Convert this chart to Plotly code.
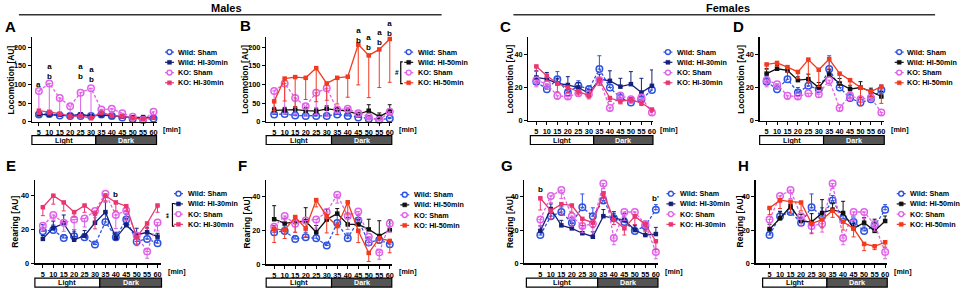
import plotly.graph_objects as go

W, H = 970, 296

# ---------------- data ----------------
time = [5, 10, 15, 20, 25, 30, 35, 40, 45, 50, 55, 60]
tick_time = [5, 10, 15, 20, 25, 30, 35, 40, 45, 50, 55, 60]

# Males - locomotion
m_loc_wild_sham = [20, 21, 17, 16, 16, 16, 20, 16, 12, 8, 6, 9]
m_loc_wild_sham_err = [3, 4, 3, 3, 3, 3, 3, 3, 3, 2, 2, 3]
m_loc_ko_sham = [83, 103, 64, 42, 78, 90, 33, 35, 23, 14, 5, 27]
m_loc_ko_sham_err = [60, 82, 45, 26, 58, 76, 10, 10, 8, 5, 3, 8]
m_loc_wild_hi30 = [20, 19, 19, 17, 20, 16, 18, 15, 14, 12, 13, 12]
m_loc_wild_hi30_err = [4, 4, 4, 4, 4, 4, 4, 3, 3, 3, 3, 3]
m_loc_ko_hi30 = [30, 27, 22, 15, 16, 10, 25, 17, 15, 10, 8, 12]
m_loc_ko_hi30_err = [10, 8, 6, 5, 5, 4, 6, 5, 4, 3, 3, 3]
m_loc_wild_hi50 = [31, 31, 33, 30, 29, 35, 33, 29, 20, 30, 14, 29]
m_loc_wild_hi50_err = [8, 8, 8, 8, 8, 8, 8, 8, 6, 16, 10, 17]
m_loc_ko_hi50 = [55, 116, 120, 118, 144, 103, 118, 121, 207, 178, 194, 222]
m_loc_ko_hi50_err = [25, 60, 80, 58, 90, 45, 70, 55, 108, 113, 102, 116]

# Females - locomotion
f_loc_wild_sham = [23.4, 19, 25, 17, 21, 19, 31, 20, 13.7, 11, 13, 18.5]
f_loc_wild_sham_err = [3, 3, 4.5, 3, 3, 2, 8, 3, 3, 3, 3, 3]
f_loc_ko_sham = [24.4, 22, 15, 14.6, 16.6, 16, 24.4, 7.8, 15.2, 13, 14, 5]
f_loc_ko_sham_err = [4, 3, 2, 1.5, 2, 2, 3, 2, 3, 2, 2, 1.5]
f_loc_wild_hi30 = [26, 25, 22.5, 21.5, 20, 16.5, 25, 24, 20.5, 22, 17, 21]
f_loc_wild_hi30_err = [4, 4, 3, 5, 3, 2, 3, 6, 5, 7.5, 8.5, 9.5]
f_loc_ko_hi30 = [32.6, 27, 22.4, 20, 17.6, 15.2, 24.4, 13.7, 11.7, 12.7, 10.7, 6.8]
f_loc_ko_hi30_err = [3, 3, 5, 3, 2, 2, 3, 2, 1.5, 2, 1.5, 1.5]
f_loc_wild_hi50 = [28.3, 31.2, 30.2, 24.4, 25, 20, 27.7, 22.4, 19, 20, 17.6, 14.6]
f_loc_wild_hi50_err = [3, 2, 2, 2, 3, 3, 3, 3, 2, 3.5, 2, 3]
f_loc_ko_hi50 = [33.8, 34.7, 32.2, 29.3, 36.7, 30.6, 37, 28.3, 24.4, 20, 17.6, 20.5]
f_loc_ko_hi50_err = [3, 2, 3, 4, 14, 10, 6, 6, 3, 11, 3, 10]

# Males - rearing
m_rear_wild_sham = [19, 19.7, 15, 16, 15.5, 11.2, 24.5, 15.5, 26, 13, 14.5, 12]
m_rear_wild_sham_err = [4, 3, 2, 3, 2, 1, 5, 3, 3, 3, 3, 2]
m_rear_ko_sham = [22.2, 28.6, 24, 26, 26.5, 31, 41.2, 28.6, 31.3, 16.4, 7.1, 24.2]
m_rear_ko_sham_err = [3, 3, 5, 6, 5, 4, 5, 8, 6, 5, 4, 5]
m_rear_wild_hi30 = [14.5, 21, 23.6, 14, 16.4, 24, 30.3, 15, 22.6, 16.8, 18.4, 15.8]
m_rear_wild_hi30_err = [2, 4, 5, 6, 3, 5, 6, 3, 4, 4, 3, 2]
m_rear_ko_hi30 = [33.2, 40, 36, 30.3, 34.2, 29.4, 40, 36, 33.8, 15.5, 23.6, 34.2]
m_rear_ko_hi30_err = [5, 5, 5, 3, 4, 9, 3, 5, 3, 5, 3, 4]
m_rear_wild_hi50 = [26.7, 24.2, 25.1, 25.5, 19, 26.5, 30, 23.6, 23.6, 20.7, 16.8, 20.3]
m_rear_wild_hi50_err = [8, 3, 3, 8, 4, 6, 3, 4, 3, 6, 9, 6]
m_rear_ko_hi50 = [21, 20.3, 28, 21.3, 38, 28.6, 22.6, 36.7, 19.9, 6.8, 15.5, 13.9]
m_rear_ko_hi50_err = [8, 5, 9, 5, 4, 10, 5, 7, 7, 5, 3, 7]

# Females - rearing
f_rear_wild_sham = [17, 28.3, 30.8, 24.4, 33.6, 28.3, 37.7, 27, 24.8, 19.5, 22.4, 32.2]
f_rear_wild_sham_err = [3, 3, 3, 3, 8, 5, 3, 3, 3, 3, 3, 3]
f_rear_ko_sham = [26.3, 40.4, 43.9, 28.3, 22.4, 23.8, 47.8, 15.2, 30.8, 30.8, 23.4, 6.8]
f_rear_ko_sham_err = [4, 4, 5, 6, 4, 5, 3, 4, 5, 4, 4, 4]
f_rear_wild_hi30 = [19.5, 32.6, 22.8, 21, 18.1, 16, 28.3, 27, 26, 20, 17, 17.6]
f_rear_wild_hi30_err = [3, 3, 3, 3, 3, 3, 4, 4, 4, 3, 3, 4]
f_rear_ko_hi30 = [39, 31.6, 35.5, 34.7, 26.7, 24.4, 42, 26.3, 21, 28.3, 23.4, 13.3]
f_rear_ko_hi30_err = [7, 5, 6, 4, 4, 3, 3, 3, 4, 5, 4, 5]
f_rear_wild_hi50 = [20.5, 27, 34.2, 25.4, 24.8, 30.2, 32.2, 30.2, 21, 24.4, 19.5, 25.4]
f_rear_wild_hi50_err = [3, 4, 3, 4, 5, 8, 4, 7, 3, 3, 7, 3]
f_rear_ko_hi50 = [33.2, 37.9, 37, 36.5, 23.8, 26.3, 31.6, 25, 20.9, 11.7, 10.3, 12.7]
f_rear_ko_hi50_err = [4, 5, 7, 5, 6, 5, 4, 5, 5, 4, 2, 3]

group_names = ["Wild: Sham", "Wild: HI-30min", "KO: Sham", "KO: HI-30min"]
group_names_50 = ["Wild: Sham", "Wild: HI-50min", "KO: Sham", "KO: HI-50min"]

# significance letters: (panel index, time, value at label centre, label)
sig_letters = [
    (0, 5, 100, "a"),
    (0, 10, 136, "a<br>b"),
    (0, 25, 136, "a<br>b"),
    (0, 30, 128, "a<br>b"),
    (1, 45, 231, "a<br>b"),
    (1, 50, 212, "a<br>b"),
    (1, 55, 227, "a<br>b"),
    (1, 60, 249, "a<br>b"),
    (4, 40, 40.5, "b"),
    (6, 5, 44, "b"),
    (6, 60, 39, "b'"),
]

# ---------------- styles ----------------
C_WSHAM = "#2f52e0"
C_WHI30 = "#15207c"
C_KSHAM = "#e062e8"
C_KHI30 = "#e93570"
C_WHI50 = "#111111"
C_KHI50 = "#f23a1f"
FONT = "Liberation Sans"

def px(x):
    return x / W

def py(y):
    return 1 - y / H

panels = [
    dict(L="A", s=[(m_loc_wild_sham, m_loc_wild_sham_err), (m_loc_wild_hi30, m_loc_wild_hi30_err),
                   (m_loc_ko_sham, m_loc_ko_sham_err), (m_loc_ko_hi30, m_loc_ko_hi30_err)],
         n=group_names, c=[C_WSHAM, C_WHI30, C_KSHAM, C_KHI30],
         xd=(32, 157), xr=(1.65, 61.43), yd=(38, 124), ymax=226.3, yt=[0, 50, 100, 150, 200],
         yl="Locomotion [AU]", lx=(170, 177), ly=53, letter=(11, 27), ytx=11),
    dict(L="B", s=[(m_loc_wild_sham, m_loc_wild_sham_err), (m_loc_wild_hi50, m_loc_wild_hi50_err),
                   (m_loc_ko_sham, m_loc_ko_sham_err), (m_loc_ko_hi50, m_loc_ko_hi50_err)],
         n=group_names_50, c=[C_WSHAM, C_WHI50, C_KSHAM, C_KHI50],
         xd=(267, 393), xr=(1.2, 60.95), yd=(38, 124), ymax=226.3, yt=[0, 50, 100, 150, 200],
         yl="Locomotion [AU]", lx=(410, 417), ly=53, letter=(246, 26), ytx=245),
    dict(L="C", s=[(f_loc_wild_sham, f_loc_wild_sham_err), (f_loc_wild_hi30, f_loc_wild_hi30_err),
                   (f_loc_ko_sham, f_loc_ko_sham_err), (f_loc_ko_hi30, f_loc_ko_hi30_err)],
         n=group_names, c=[C_WSHAM, C_WHI30, C_KSHAM, C_KHI30],
         xd=(530, 655), xr=(1.2, 60.5), yd=(38, 123), ymax=50, yt=[0, 20, 40],
         yl="Locomotion [AU]", lx=(670, 677), ly=53, letter=(507, 27), ytx=512),
    dict(L="D", s=[(f_loc_wild_sham, f_loc_wild_sham_err), (f_loc_wild_hi50, f_loc_wild_hi50_err),
                   (f_loc_ko_sham, f_loc_ko_sham_err), (f_loc_ko_hi50, f_loc_ko_hi50_err)],
         n=group_names_50, c=[C_WSHAM, C_WHI50, C_KSHAM, C_KHI50],
         xd=(762, 887), xr=(1.65, 61.4), yd=(38, 123), ymax=50, yt=[0, 20, 40],
         yl="Locomotion [AU]", lx=(902, 908), ly=53, letter=(741, 27), ytx=743),
    dict(L="E", s=[(m_rear_wild_sham, m_rear_wild_sham_err), (m_rear_wild_hi30, m_rear_wild_hi30_err),
                   (m_rear_ko_sham, m_rear_ko_sham_err), (m_rear_ko_hi30, m_rear_ko_hi30_err)],
         n=group_names, c=[C_WSHAM, C_WHI30, C_KSHAM, C_KHI30],
         xd=(35, 162), xr=(1.17, 61.9), yd=(183, 268), ymax=49.3, yt=[0, 20, 40],
         yl="Rearing [AU]", lx=(179, 187), ly=197, letter=(11, 168), ytx=15),
    dict(L="F", s=[(m_rear_wild_sham, m_rear_wild_sham_err), (m_rear_wild_hi50, m_rear_wild_hi50_err),
                   (m_rear_ko_sham, m_rear_ko_sham_err), (m_rear_ko_hi50, m_rear_ko_hi50_err)],
         n=group_names_50, c=[C_WSHAM, C_WHI50, C_KSHAM, C_KHI50],
         xd=(267, 393), xr=(1.2, 60.95), yd=(183, 269), ymax=49.9, yt=[0, 20, 40],
         yl="Rearing [AU]", lx=(406, 413), ly=198, letter=(243, 168), ytx=248),
    dict(L="G", s=[(f_rear_wild_sham, f_rear_wild_sham_err), (f_rear_wild_hi30, f_rear_wild_hi30_err),
                   (f_rear_ko_sham, f_rear_ko_sham_err), (f_rear_ko_hi30, f_rear_ko_hi30_err)],
         n=group_names, c=[C_WSHAM, C_WHI30, C_KSHAM, C_KHI30],
         xd=(526, 660), xr=(-2.6, 61), yd=(183, 268), ymax=50, yt=[0, 20, 40],
         yl="Rearing [AU]", lx=(673, 680), ly=197, letter=(509, 168), ytx=511),
    dict(L="H", s=[(f_rear_wild_sham, f_rear_wild_sham_err), (f_rear_wild_hi50, f_rear_wild_hi50_err),
                   (f_rear_ko_sham, f_rear_ko_sham_err), (f_rear_ko_hi50, f_rear_ko_hi50_err)],
         n=group_names_50, c=[C_WSHAM, C_WHI50, C_KSHAM, C_KHI50],
         xd=(758, 890), xr=(-1.6, 61), yd=(183, 268), ymax=50, yt=[0, 20, 40],
         yl="Rearing [AU]", lx=(904, 911), ly=197, letter=(746, 168), ytx=742),
]

fig = go.Figure()
shapes = []
annots = []
layout_axes = {}

def txt(x, y, t, size, color="black", xanchor="center", angle=0):
    annots.append(dict(x=px(x), y=py(y), xref="paper", yref="paper", text=f"<b>{t}</b>",
                       showarrow=False, xanchor=xanchor, yanchor="middle", textangle=angle,
                       font=dict(family=FONT, size=size, color=color)))

for i, p in enumerate(panels):
    k = i + 1
    xa = "x" if k == 1 else f"x{k}"
    ya = "y" if k == 1 else f"y{k}"
    layout_axes["xaxis" if k == 1 else f"xaxis{k}"] = dict(
        domain=[px(p["xd"][0]), px(p["xd"][1])], range=list(p["xr"]), anchor=ya,
        showline=True, linecolor="black", linewidth=1.3, ticks="outside", ticklen=3,
        tickwidth=1, tickcolor="black", tickvals=tick_time,
        ticktext=[f"<b>{t}</b>" for t in tick_time],
        tickfont=dict(family=FONT, size=7.3, color="black"),
        showgrid=False, zeroline=False, fixedrange=True)
    layout_axes["yaxis" if k == 1 else f"yaxis{k}"] = dict(
        domain=[py(p["yd"][1]), py(p["yd"][0])], range=[0, p["ymax"]], anchor=xa,
        showline=True, linecolor="black", linewidth=1.3, ticks="outside", ticklen=3,
        tickwidth=1, tickcolor="black", tickvals=p["yt"],
        ticktext=[f"<b>{t}</b>" for t in p["yt"]],
        tickfont=dict(family=FONT, size=7.3, color="black"),
        showgrid=False, zeroline=False, fixedrange=True)

    for j, ((vals, err), name, col) in enumerate(zip(p["s"], p["n"], p["c"])):
        sham = j in (0, 2)
        up = j in (0, 1)
        zeros = [0] * len(err)
        fig.add_trace(go.Scatter(
            x=time, y=vals, xaxis=xa, yaxis=ya, name=name, showlegend=False,
            mode="lines+markers", cliponaxis=False,
            line=dict(color=col, width=1.3, dash="3px,2px" if sham else "solid"),
            marker=dict(symbol="circle-open" if sham else "square",
                        size=6.5 if sham else 4.5, color=col,
                        line=dict(color=col, width=1.5 if sham else 0)),
            error_y=dict(type="data", symmetric=False,
                         array=err if up else zeros,
                         arrayminus=zeros if up else err,
                         color=col, thickness=1, width=2)))

    # compact manual legend
    mx, tx = p["lx"]
    for j, (name, col) in enumerate(zip(p["n"], p["c"])):
        yy = p["ly"] + j * 10.4
        sham = j in (0, 2)
        shapes.append(dict(type="line", xref="paper", yref="paper",
                           x0=px(mx - 4.5), x1=px(mx + 4.5), y0=py(yy), y1=py(yy),
                           line=dict(color=col, width=1.2, dash="2px,1.5px" if sham else "solid")))
        if sham:
            shapes.append(dict(type="circle", xref="paper", yref="paper",
                               x0=px(mx - 2.5), x1=px(mx + 2.5), y0=py(yy + 2.5), y1=py(yy - 2.5),
                               line=dict(color=col, width=1.4), fillcolor="white"))
        else:
            shapes.append(dict(type="rect", xref="paper", yref="paper",
                               x0=px(mx - 2), x1=px(mx + 2), y0=py(yy + 2), y1=py(yy - 2),
                               line=dict(color=col, width=0.5), fillcolor=col))
        txt(tx, yy, name, 7.2, xanchor="left")

    txt(p["letter"][0], p["letter"][1], p["L"], 15, xanchor="center")
    ymid = (p["yd"][0] + p["yd"][1]) / 2
    txt(p["ytx"], ymid, p["yl"], 8.5, angle=-90)

    row_tick_y = 132 if p["yd"][1] < 150 else 276
    txt(p["xd"][1] + 5, row_tick_y, "[min]", 7.2, xanchor="left")

    by0, by1 = (138, 147) if p["yd"][1] < 150 else (283, 292)
    x0 = p["xd"][0] + (2 if p["L"] in "CG" else 0)
    if p["L"] == "H":
        x0 = 765
    x1 = p["xd"][1]
    t_split = 32.3
    xs = p["xd"][0] + (t_split - p["xr"][0]) / (p["xr"][1] - p["xr"][0]) * (p["xd"][1] - p["xd"][0])
    shapes.append(dict(type="rect", xref="paper", yref="paper", x0=px(x0), x1=px(xs),
                       y0=py(by1), y1=py(by0), line=dict(color="black", width=1.2), fillcolor="white"))
    shapes.append(dict(type="rect", xref="paper", yref="paper", x0=px(xs), x1=px(x1),
                       y0=py(by1), y1=py(by0), line=dict(color="black", width=1.2), fillcolor="#555555"))
    txt((x0 + xs) / 2, (by0 + by1) / 2, "Light", 7.2)
    txt((xs + x1) / 2, (by0 + by1) / 2, "Dark", 7.2, color="white")

# significance letters: x in data units, y converted through the panel's y scale
for pi, tv, val, lab in sig_letters:
    p = panels[pi]
    xa = "x" if pi == 0 else f"x{pi + 1}"
    y_pix = p["yd"][1] - val / p["ymax"] * (p["yd"][1] - p["yd"][0])
    annots.append(dict(x=tv, y=py(y_pix), xref=xa, yref="paper", text=f"<b>{lab}</b>",
                       showarrow=False, xanchor="center", yanchor="middle",
                       font=dict(family=FONT, size=8, color="black")))

# brackets (B: #, E: **)
for (bx, by0, by1, label, lx_, ang) in [(402, 63, 85, "#", 398, 0), (173, 207, 230, "**", 169, -90)]:
    shapes.append(dict(type="path", xref="paper", yref="paper",
                       path=f"M {px(bx+2)},{py(by0)} L {px(bx)},{py(by0)} L {px(bx)},{py(by1)} L {px(bx+2)},{py(by1)}",
                       line=dict(color="black", width=1.2)))
    txt(lx_, (by0 + by1) / 2, label, 6.5, angle=ang)

# header lines
shapes.append(dict(type="line", xref="paper", yref="paper", x0=px(19), x1=px(443), y0=py(15), y1=py(15),
                   line=dict(color="#333333", width=1.5)))
shapes.append(dict(type="line", xref="paper", yref="paper", x0=px(515), x1=px(938), y0=py(15), y1=py(15),
                   line=dict(color="#333333", width=1.5)))
txt(227, 8, "Males", 11)
txt(730, 8, "Females", 11)

fig.update_layout(width=W, height=H, margin=dict(l=0, r=0, t=0, b=0),
                  paper_bgcolor="white", plot_bgcolor="white",
                  shapes=shapes, annotations=annots, showlegend=False, **layout_axes)

fig.write_html("out.html", config={"displayModeBar": False, "staticPlot": True},
               post_script="document.body.style.margin='0';document.body.style.padding='0';"
                           "document.body.style.overflow='hidden';")
